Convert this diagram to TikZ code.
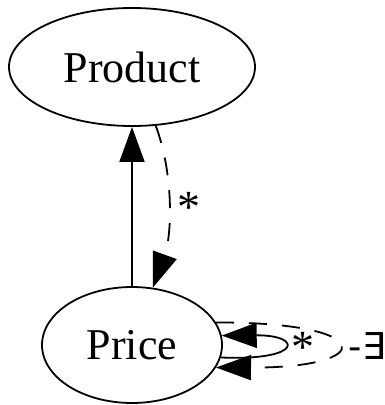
\documentclass[tikz,border=0pt]{standalone}
\usepackage{fontspec}
\setmainfont{Liberation Serif}
\newfontfamily\symfont{DejaVu Sans}
\usetikzlibrary{shapes.geometric,arrows.meta}

\begin{document}
\begin{tikzpicture}[x=1pt,y=1pt,line width=1.8pt,
	entity/.style={draw,ellipse,inner sep=0pt,font=\fontsize{44}{44}\selectfont},
	tip/.style={-{Triangle[length=35pt,width=25pt]}},
	dsh/.style={dash pattern=on 18pt off 15pt},
	lbl/.style={inner sep=0pt,font=\fontsize{46}{46}\selectfont}]
	\useasboundingbox (0,0) rectangle (385,405);
	
	\node[entity,minimum width=246pt,minimum height=118pt] (product) at (132,338) {Product};
	\node[entity,minimum width=180pt,minimum height=116pt] (price) at (132,60) {Price};
	
	\draw[tip] (price.north) -- (product.south);
	\draw[tip,dsh] (product.-68.5) .. controls (174,230) and (172,170) .. (price.70);
	\node[lbl] (star1) at (189,198) {*};
	
	% self loops on price
	\draw[tip] (price.-8) .. controls (303,44) and (303,70) .. (price.6);
	\draw[tip,dsh] (price.15.5) .. controls (378,83) and (378,37) .. (price.-15.5);
	\node[lbl] (star2) at (303,58) {*};
	\node[inner sep=0pt,anchor=west,font=\symfont\fontsize{37}{37}\selectfont] (tail) at (348,58.5) {-∃};
\end{tikzpicture}
\end{document}
